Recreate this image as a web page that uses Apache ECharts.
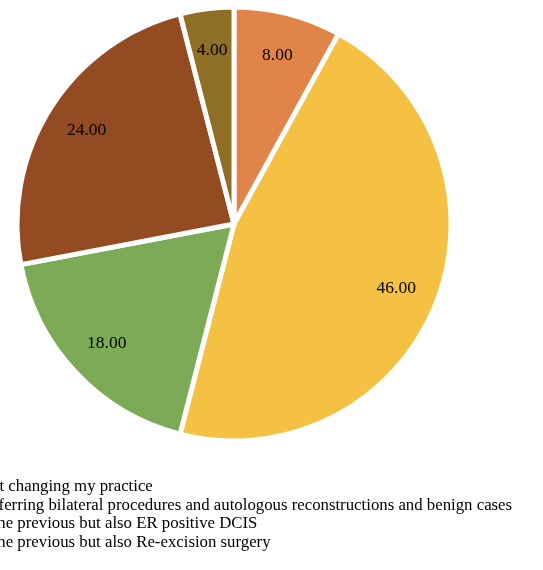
<!DOCTYPE html>
<html>
<head>
<meta charset="utf-8">
<style>
  html, body { margin: 0; padding: 0; background: #fff; }
  #chart { width: 543px; height: 570px; }
</style>
<script src="https://cdn.jsdelivr.net/npm/echarts@6/dist/echarts.min.js"></script>
</head>
<body>
<div id="chart"></div>
<script>
// Survey answers and their shares (%)
const categories = [
  'Not changing my practice',
  'Deferring bilateral procedures and autologous reconstructions and benign cases',
  '+ the previous but also ER positive DCIS',
  '+ the previous but also Re-excision surgery',
  'Other'
];
const values = [8, 46, 18, 24, 4];
const colors = ['#E1844A', '#F5C143', '#7DAA56', '#944B21', '#8F6F25'];
const legendNames = categories.slice(0, 4);

const chart = echarts.init(document.getElementById('chart'));
const serif = '"Liberation Serif", "Times New Roman", serif';
const center = [234, 224];

const data = categories.map((name, i) => ({
  name,
  value: values[i],
  itemStyle: { color: colors[i] }
}));

chart.setOption({
  animation: false,
  backgroundColor: '#ffffff',
  legend: {
    orient: 'vertical',
    left: -37,
    top: 478,
    padding: 0,
    itemGap: 0.4,
    itemWidth: 10,
    itemHeight: 10,
    icon: 'rect',
    data: legendNames,
    textStyle: { fontFamily: serif, fontSize: 16.8, color: '#000', lineHeight: 18 }
  },
  series: [
    {
      // filled slices
      type: 'pie',
      center,
      radius: [0, 217],
      startAngle: 90,
      clockwise: true,
      silent: true,
      label: { show: false },
      labelLine: { show: false },
      itemStyle: { borderColor: '#ffffff', borderWidth: 5 },
      data
    },
    {
      // value labels placed toward the rim
      type: 'pie',
      center,
      radius: [126, 217],
      startAngle: 90,
      clockwise: true,
      silent: true,
      legendHoverLink: false,
      itemStyle: { color: 'rgba(0,0,0,0)', borderWidth: 0 },
      label: {
        show: true,
        position: 'inside',
        fontFamily: serif,
        fontSize: 17.5,
        color: '#000',
        formatter: p => p.value.toFixed(2)
      },
      labelLine: { show: false },
      data: categories.map((name, i) => ({ name: name + ' ', value: values[i] }))
    }
  ]
});
</script>
</body>
</html>
